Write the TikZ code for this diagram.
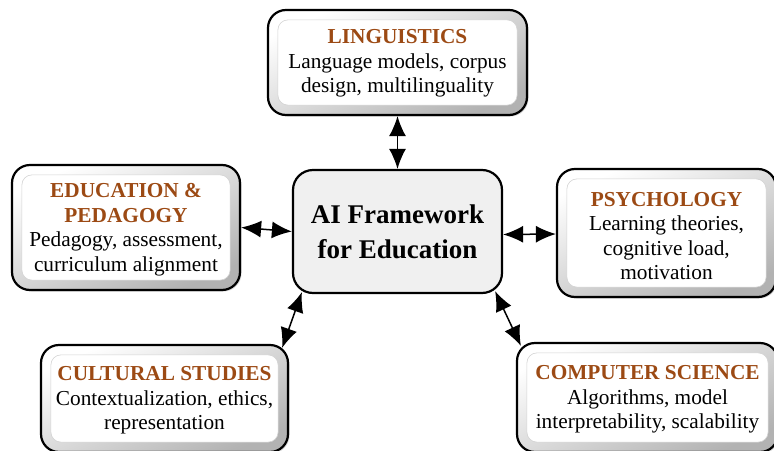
\documentclass[tikz,border=0pt]{standalone}
\usepackage{fontspec}
\setmainfont{Liberation Serif}
\usetikzlibrary{arrows.meta,shadows,calc}
\definecolor{titlebrown}{HTML}{9C4A14}
\definecolor{centerfill}{HTML}{F0F0F0}
\tikzset{
  outerbox/.style={rectangle, rounded corners=18pt, draw=black, line width=2.2pt,
    shading=axis, top color=white, bottom color=gray!60, shading angle=25,
    drop shadow={shadow xshift=1.5pt, shadow yshift=-1.5pt, fill=gray!55, opacity=0.6},
    inner sep=0pt, align=center},
  innerframe/.style={draw=gray!35, line width=0.6pt, fill=white, rounded corners=10pt},
  centerbox/.style={rectangle, rounded corners=20pt, draw=black, line width=2.2pt,
    fill=centerfill, inner sep=0pt, align=center,
    font=\fontsize{27}{35}\selectfont\bfseries},
  bodytext/.style={align=center, font=\fontsize{21.3}{24.5}\selectfont, inner sep=0pt},
  twoway/.style={{Latex[length=20pt,width=17pt]}-{Latex[length=20pt,width=17pt]}, line width=1.5pt},
}
\newcommand{\ttl}[1]{{\color{titlebrown}\bfseries #1}}
\begin{document}
\begin{tikzpicture}[x=1pt,y=-1pt]
\useasboundingbox (0,0) rectangle (774,450);
% outer boxes
\node[outerbox, minimum width=259pt, minimum height=105pt] (ling) at (397.5,62.5) {};
\node[outerbox, minimum width=228pt, minimum height=125pt] (edu) at (126,227.5) {};
\node[outerbox, minimum width=219pt, minimum height=128pt] (psych) at (666.5,233) {};
\node[outerbox, minimum width=261pt, minimum height=109pt] (cs) at (647.5,397.5) {};
\node[outerbox, minimum width=247pt, minimum height=107pt] (cult) at (164.5,398.5) {};
% inner frames
\foreach \b in {ling,edu,psych,cs,cult}{
  \path[innerframe] ($(\b.north west)+(11,11)$) rectangle ($(\b.south east)+(-11,-11)$);
}
% texts
\node[bodytext] (lingt) at ([yshift=-1pt]ling.center) {\ttl{LINGUISTICS}\\Language models, corpus\\design, multilinguality};
\node[bodytext] (edut) at ([yshift=-2pt]edu.center) {\ttl{EDUCATION \&}\\\ttl{PEDAGOGY}\\Pedagogy, assessment,\\curriculum alignment};
\node[bodytext] (psycht) at ([yshift=-3pt]psych.center) {\ttl{PSYCHOLOGY}\\Learning theories,\\cognitive load,\\motivation};
\node[bodytext] (cst) at ([yshift=-2pt]cs.center) {\ttl{COMPUTER SCIENCE}\\Algorithms, model\\interpretability, scalability};
\node[bodytext] (cultt) at ([yshift=-2pt]cult.center) {\ttl{CULTURAL STUDIES}\\Contextualization, ethics,\\representation};
% center
\node[centerbox, minimum width=209pt, minimum height=123pt] (ai) at (397.5,231.5) {AI Framework\\for Education};
% connectors
\draw[twoway] (ling.south) -- (ai.north);
\draw[twoway] (edu.east) -- (ai.west);
\draw[twoway] ([yshift=-3pt]ai.east) -- ([yshift=-1pt]psych.west);
\draw[twoway] ([xshift=10pt,yshift=2pt]ai.south west) -- ([xshift=-7pt,yshift=-4pt]cult.north east);
\draw[twoway] ([xshift=-8pt,yshift=3pt]ai.south east) -- ([xshift=5pt,yshift=-4pt]cs.north west);
\end{tikzpicture}
\end{document}
